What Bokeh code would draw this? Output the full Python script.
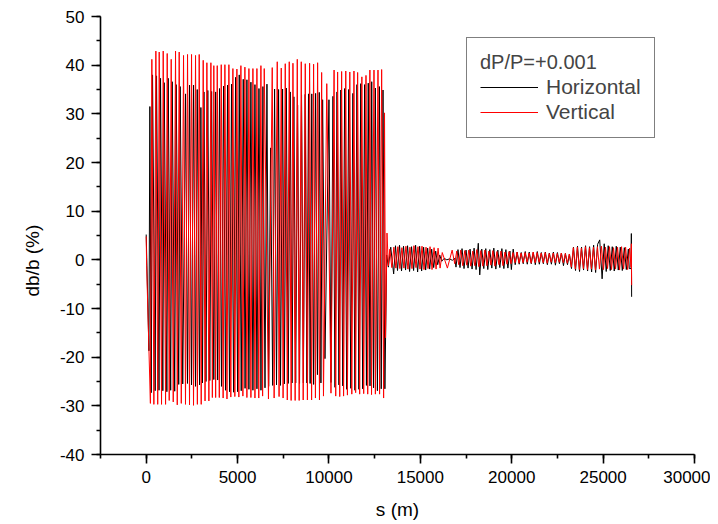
from bokeh.plotting import figure
from bokeh.models import Range1d, SingleIntervalTicker, Legend, LegendItem, PrintfTickFormatter, Title
from bokeh.embed import file_html
from bokeh.resources import INLINE

# ---- data: (s in m, db/b in %) ----
horizontal_pts = [
    (0, 5.2), (30, 0.5), (150, -18.7), (201, 31.5),
    (275, -27.3), (347, 38.0), (490, -26.9), (566, 37.8), (700, -26.8), (785, 37.3),
    (910, -26.9), (985, 36.4), (1130, -27.1), (1204, 37.3), (1340, -26.8), (1423, 36.6),
    (1560, -27.0), (1642, 36.0), (1780, -25.6), (1861, 35.6), (2000, -25.5), (2153, 34.1),
    (2260, -25.4), (2372, 35.9), (2480, -25.7), (2591, 35.9), (2700, -26.0), (2792, 35.0),
    (2920, -25.7), (2992, 31.3), (3080, -25.3), (3160, 34.5), (3270, -25.0), (3370, 34.8),
    (3480, -24.8), (3580, 34.6), (3700, -24.6), (3800, 34.5), (3910, -24.7), (4014, 35.2),
    (4120, -26.0), (4233, 35.7), (4340, -26.8), (4452, 35.9), (4560, -27.1), (4670, 36.1),
    (4780, -27.2), (4890, 37.5), (5000, -27.1), (5091, 38.0), (5200, -26.9), (5310, 37.1),
    (5410, -26.4), (5511, 37.0), (5620, -26.6), (5730, 36.5), (5840, -26.8), (5950, 36.0),
    (6060, -26.5), (6170, 35.2), (6280, -26.8), (6388, 35.6), (6500, -26.3), (6607, 36.1),
    (6700, -26.0), (6806, 23.0), (6920, -25.8), (7025, 35.1), (7130, -25.7), (7244, 35.0),
    (7350, -25.8), (7463, 35.1), (7560, -25.5), (7664, 35.3), (7770, -25.4), (7880, 34.5),
    (7980, -25.3), (8080, 33.5), (8180, -25.3), (8284, 31.8), (8390, -25.4), (8500, 33.9),
    (8600, -25.3), (8700, 34.0), (8790, -25.3), (8880, 34.1), (8970, -25.4), (9060, 34.1),
    (9160, -25.6), (9269, 34.2), (9370, -23.6), (9470, 34.4), (9560, -25.3), (9653, 32.9),
    (9781, -20.3), (10000, 32.9), (10110, -25.2), (10220, 33.6), (10330, -26.2), (10440, 34.5),
    (10545, -25.7), (10650, 34.9), (10755, -25.9), (10860, 35.2), (10970, -26.6), (11080, 35.0),
    (11195, -26.4), (11310, 34.2), (11420, -26.8), (11530, 36.0), (11635, -26.6), (11740, 36.2),
    (11845, -26.5), (11950, 36.0), (12050, -25.8), (12150, 36.3), (12245, -25.9), (12340, 36.6),
    (12440, -26.3), (12540, 35.3), (12650, -26.9), (12760, 35.6), (12860, -26.5), (12956, 34.9),
    (13060, -26.5), (13160, 1.0),
    (13250, -1.5), (13380, 2.6), (13540, -2.9), (13640, 2.9), (13750, -2.2), (13860, 3.0),
    (13970, -2.3), (14080, 2.8), (14190, -2.1), (14300, 2.9), (14410, -2.4), (14520, 2.7),
    (14630, -2.2), (14740, 3.0), (14850, -2.5), (14960, 2.8), (15070, -2.3), (15180, 2.6),
    (15290, -2.1), (15400, 2.4), (15510, -1.9), (15620, 2.2), (15730, -1.6), (15840, 1.8),
    (15950, -1.0), (16060, 1.0), (16170, -0.3), (16300, 0.3), (16450, 0.0), (16600, 0.2),
    (16750, -0.1), (16880, 0.3), (16950, -1.5), (17060, 2.1), (17170, -1.6), (17280, 2.3),
    (17390, -1.8), (17500, 2.0), (17610, -1.7), (17720, 2.2), (17830, -1.9), (17940, 2.4),
    (18050, -2.0), (18170, 3.4), (18250, -3.1), (18360, 2.2), (18470, -1.8), (18580, 2.3),
    (18690, -2.0), (18800, 2.1), (18910, -1.7), (19020, 2.4), (19130, -1.9), (19240, 2.0),
    (19350, -1.6), (19460, 2.3), (19570, -1.8), (19680, 2.1), (19790, -1.7), (19900, 1.8),
    (19980, -2.0), (20080, 2.2), (20190, -1.0), (20300, 1.6), (20410, -0.9), (20520, 1.5),
    (20630, -0.8), (20740, 1.7), (20850, -0.9), (20960, 1.6), (21070, -0.8), (21180, 1.5),
    (21290, -1.0), (21400, 1.7), (21510, -0.9), (21620, 1.5), (21730, -0.8), (21840, 1.6),
    (21950, -1.0), (22060, 1.4), (22170, -0.9), (22280, 1.6), (22390, -1.1), (22500, 1.5),
    (22610, -0.8), (22720, 1.4), (22830, -1.2), (22940, 1.3), (23050, -1.0), (23160, 1.2),
    (23270, -1.8), (23380, 2.6), (23490, -2.2), (23600, 2.8), (23710, -2.4), (23820, 2.6),
    (23930, -2.1), (24040, 2.9), (24150, -2.3), (24260, 2.7), (24370, -2.5), (24480, 3.0),
    (24590, -2.6), (24700, 3.2), (24815, 4.1), (24945, -3.9), (25060, 3.3), (25170, -2.4),
    (25280, 2.9), (25390, -2.2), (25500, 2.7), (25610, -2.3), (25720, 2.8), (25830, -2.1),
    (25940, 2.6), (26050, -2.2), (26160, 2.5), (26270, -2.0), (26380, 2.2), (26430, -1.8),
    (26530, -1.8), (26545, 5.4), (26560, -7.6),
]

vertical_pts = [
    (0, 4.8), (25, -1.2), (230, -29.5), (310, 41.2),
    (420, -29.7), (529, 42.9), (630, -29.7), (712, 42.7), (840, -29.7), (931, 42.9),
    (1060, -29.7), (1150, 42.4), (1260, -28.9), (1369, 41.2), (1480, -29.2), (1606, 42.9),
    (1700, -29.8), (1806, 42.7), (1920, -29.5), (2043, 42.0), (2150, -29.7), (2262, 42.2),
    (2370, -29.8), (2481, 42.2), (2590, -29.9), (2700, 42.0), (2800, -29.7), (2901, 42.2),
    (3010, -29.7), (3120, 41.0), (3220, -29.0), (3321, 40.5), (3430, -29.0), (3540, 40.5),
    (3620, -28.3), (3700, 39.9), (3800, -28.3), (3887, 39.9), (4000, -28.3), (4106, 40.1),
    (4210, -28.4), (4306, 40.1), (4420, -28.6), (4525, 40.1), (4630, -28.2), (4744, 39.3),
    (4850, -28.1), (4963, 39.2), (5070, -28.2), (5182, 39.9), (5290, -28.0), (5401, 39.6),
    (5510, -28.3), (5620, 39.3), (5730, -28.3), (5839, 39.3), (5950, -28.4), (6058, 39.3),
    (6160, -28.4), (6277, 39.9), (6370, -28.0), (6459, 39.3), (6690, -28.6), (6897, 39.5),
    (7000, -28.4), (7171, 40.7), (7270, -28.1), (7390, 39.4), (7490, -28.4), (7609, 40.3),
    (7720, -28.8), (7828, 40.7), (7930, -28.9), (8029, 40.4), (8150, -28.9), (8266, 41.2),
    (8370, -28.9), (8485, 40.7), (8590, -28.8), (8704, 40.3), (8820, -28.8), (8941, 40.4),
    (9050, -28.8), (9160, 40.2), (9260, -28.4), (9379, 40.5), (9480, -28.8), (9600, 38.5),
    (9700, -28.0), (9880, 36.2), (10110, -27.4), (10280, 39.0), (10370, -28.0), (10474, 38.6),
    (10590, -28.1), (10693, 38.7), (10800, -28.0), (10920, 38.8), (11010, -27.8), (11140, 38.6),
    (11250, -27.6), (11368, 38.8), (11460, -27.3), (11569, 38.5), (11680, -27.6), (11800, 37.6),
    (11900, -27.5), (12026, 37.9), (12120, -27.6), (12240, 39.0), (12330, -27.7), (12464, 39.0),
    (12540, -27.6), (12683, 39.0), (12770, -27.6), (12883, 39.1), (12990, -28.4), (13040, 30.2),
    (13095, -16.0), (13175, 5.5),
    (13250, -1.2), (13330, 2.2), (13440, -1.6), (13550, 2.6), (13660, -1.7), (13770, 2.7),
    (13880, -1.8), (13990, 2.5), (14100, -1.7), (14210, 2.8), (14320, -1.9), (14430, 2.6),
    (14540, -1.8), (14650, 2.9), (14760, -1.6), (14870, 2.7), (14980, -1.9), (15090, 2.8),
    (15200, -2.0), (15310, 2.6), (15420, -1.8), (15530, 2.7), (15640, -2.0), (15750, 2.5),
    (15860, -1.9), (15970, 2.4), (16080, -1.7), (16200, 1.5), (16480, -1.7), (16740, 2.0),
    (16880, -0.8), (16990, 1.8), (17100, -1.0), (17210, 2.0), (17320, -1.2), (17430, 1.9),
    (17540, -1.1), (17650, 2.0), (17760, -1.3), (17870, 1.8), (17980, -1.2), (18090, 2.1),
    (18200, -1.4), (18310, 1.9), (18420, -1.3), (18530, 2.0), (18640, -1.2), (18750, 1.8),
    (18860, -1.1), (18970, 1.9), (19080, -1.3), (19190, 1.7), (19300, -1.0), (19410, 1.8),
    (19520, -1.2), (19630, 1.6), (19740, -0.9), (19850, 1.7), (19960, -0.8), (20070, 1.5),
    (20180, -0.6), (20290, 1.6), (20400, -0.7), (20510, 1.4), (20620, -0.6), (20730, 1.5),
    (20840, -0.5), (20950, 1.4), (21060, -0.7), (21170, 1.6), (21280, -0.6), (21390, 1.5),
    (21500, -0.5), (21610, 1.4), (21720, -0.6), (21830, 1.5), (21940, -0.7), (22050, 1.3),
    (22160, -0.5), (22270, 1.4), (22380, -0.6), (22490, 1.3), (22600, -0.5), (22710, 1.4),
    (22820, -0.6), (22930, 1.3), (23040, -0.7), (23150, 1.2), (23260, -1.5), (23370, 2.5),
    (23480, -1.9), (23590, 2.6), (23700, -2.0), (23810, 2.4), (23920, -1.8), (24030, 2.7),
    (24140, -2.0), (24250, 2.5), (24360, -1.9), (24470, 2.6), (24580, -2.1), (24690, 2.7),
    (24800, -1.9), (24910, 2.8), (25020, -2.0), (25130, 2.6), (25240, -1.8), (25350, 2.7),
    (25460, -2.0), (25570, 2.5), (25680, -1.9), (25790, 2.6), (25900, -2.1), (26010, 2.7),
    (26120, -1.9), (26230, 2.6), (26340, -2.0), (26450, 2.4), (26530, -1.5), (26545, 3.3),
    (26560, -5.2),
]

h_s = [a for a, b in horizontal_pts]
h_v = [b for a, b in horizontal_pts]
v_s = [a for a, b in vertical_pts]
v_v = [b for a, b in vertical_pts]

legend_title = "dP/P=+0.001"
series_labels = ["Horizontal", "Vertical"]
x_title = "s (m)"
y_title = "db/b (%)"

FONT = "Liberation Sans"

p = figure(width=710, height=524, output_backend="svg", toolbar_location=None,
           x_range=Range1d(-2500, 30000), y_range=Range1d(-40, 50),
           min_border_left=100, min_border_right=16, min_border_top=16, min_border_bottom=70)
p.outline_line_color = None
p.grid.visible = False
p.background_fill_color = "white"

p.xaxis.ticker = SingleIntervalTicker(interval=5000, num_minor_ticks=2)
p.yaxis.ticker = SingleIntervalTicker(interval=10, num_minor_ticks=2)
p.xaxis.formatter = PrintfTickFormatter(format="%d")
p.yaxis.formatter = PrintfTickFormatter(format="%d")
p.xaxis.axis_label = x_title

for ax in (p.xaxis[0], p.yaxis[0]):
    ax.axis_line_width = 1.6
    ax.axis_line_color = "black"
    ax.major_tick_line_width = 1.6
    ax.minor_tick_line_width = 1.6
    ax.major_tick_line_color = "black"
    ax.minor_tick_line_color = "black"
    ax.major_tick_out = 9
    ax.major_tick_in = 0
    ax.minor_tick_out = 4
    ax.minor_tick_in = 0
    ax.major_label_text_font = FONT
    ax.major_label_text_font_size = "17px"
    ax.major_label_text_color = "black"
    ax.axis_label_text_font = FONT
    ax.axis_label_text_font_size = "19px"
    ax.axis_label_text_font_style = "normal"
    ax.axis_label_text_color = "black"

p.xaxis.major_label_standoff = 7
p.xaxis.axis_label_standoff = 13
p.yaxis.major_label_standoff = 7

# y-axis title as a side title, a little below the frame centre as in the reference
ytitle = Title(text=y_title, align="left", offset=158, standoff=28,
               text_font=FONT, text_font_size="19px", text_font_style="normal",
               text_color="black")
p.add_layout(ytitle, "left")

rh = p.line(h_s, h_v, line_color="black", line_width=1)
rv = p.line(v_s, v_v, line_color="red", line_width=1)

legend = Legend(
    items=[LegendItem(label=series_labels[0], renderers=[rh]),
           LegendItem(label=series_labels[1], renderers=[rv])],
    location=(366, 316), title=legend_title,
    border_line_color="black", border_line_width=1.5, background_fill_alpha=1.0,
    padding=13, spacing=1, margin=0,
    label_text_font=FONT, label_text_font_size="21px",
    title_text_font=FONT, title_text_font_size="20px", title_text_font_style="normal",
    title_standoff=1, glyph_width=58, glyph_height=20, label_height=20, label_standoff=8,
)
p.add_layout(legend)

open("out.html", "w").write(file_html(p, INLINE))
